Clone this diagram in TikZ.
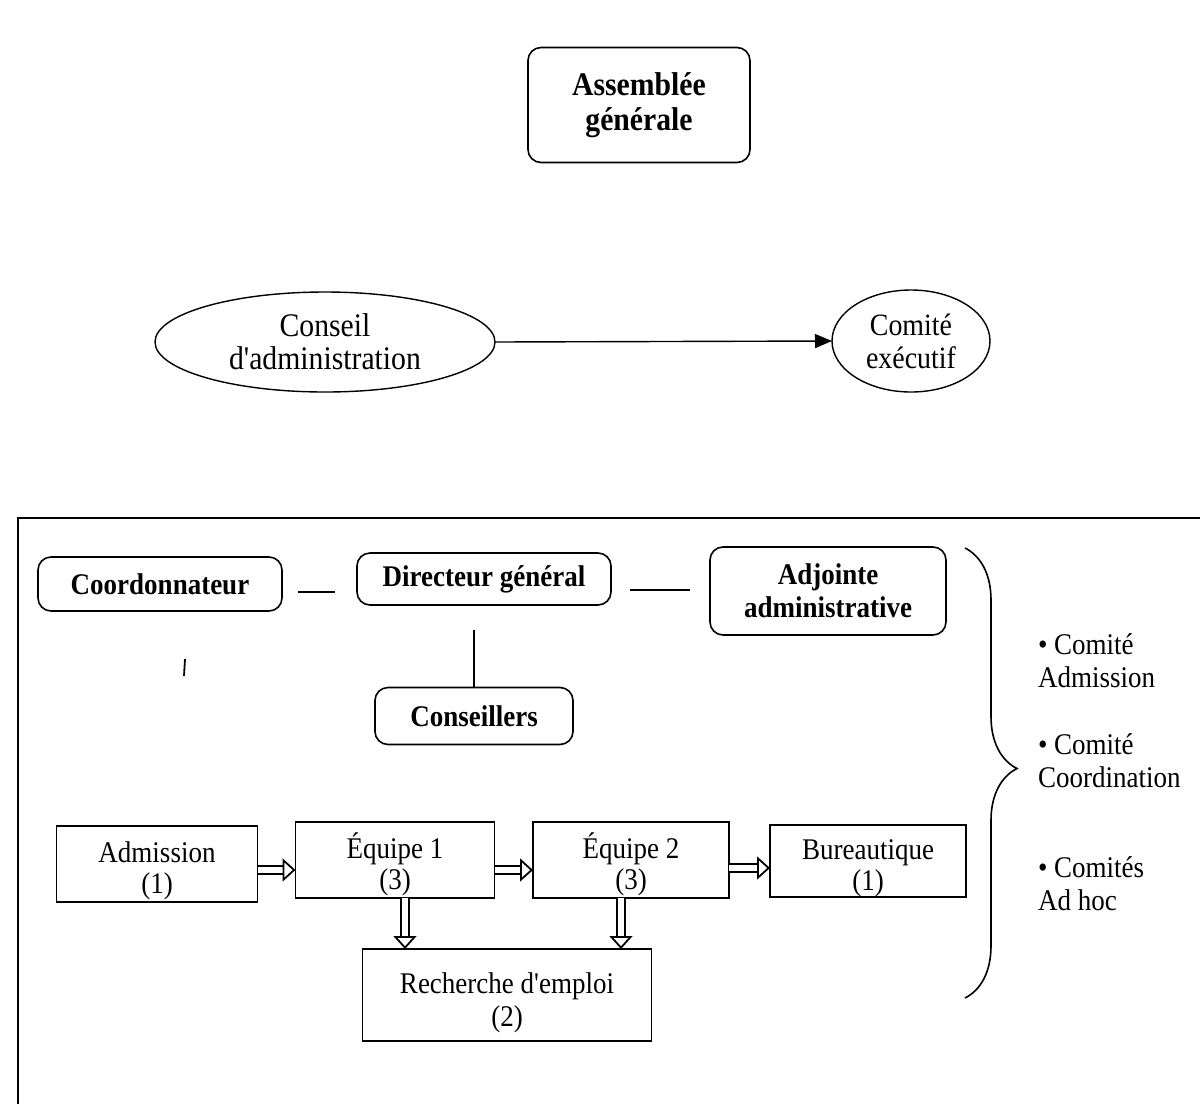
\documentclass[tikz,border=0pt]{standalone}
\usepackage{fontspec}
\setmainfont{Liberation Serif}[FakeStretch=0.9, Ligatures=TeXOff]
\usetikzlibrary{shapes.geometric,arrows.meta,decorations.pathreplacing,calc}
\newcommand\topstrut[1]{\rule{0pt}{#1}}
\begin{document}
\begin{tikzpicture}[x=1pt,y=-1pt,
  txt/.style={font=\fontsize{30}{31}\selectfont, align=center, inner sep=0pt, outer sep=0pt},
  btxt/.style={txt, font=\fontsize{30}{33}\selectfont\bfseries},
  rbox/.style={btxt, draw, line width=1.6pt, rounded corners=13pt},
  sbox/.style={txt, draw, line width=1.6pt},
  ell/.style={txt, draw, ellipse, line width=1.4pt},
  link/.style={line width=1.4pt},
  dbl/.style={double, double distance=6.5pt, line width=1.8pt,
    -{Triangle[open, length=13pt, width=23pt, line width=1.8pt]}},
  side/.style={txt, align=left, anchor=west, font=\fontsize{30}{33}\selectfont}
]
\useasboundingbox (0,0) rectangle (1200,1104);
\fill[white] (0,0) rectangle (1200,1104);

% top part
\node[rbox, font=\fontsize{33}{35}\selectfont\bfseries, minimum width=222pt, minimum height=115pt] (ag) at (639,105) {Assemblée\\générale};
\node[ell, font=\fontsize{33}{33}\selectfont, minimum width=340pt, minimum height=100pt] (ca) at (325,342) {Conseil\\d'administration};
\node[ell, font=\fontsize{31}{33}\selectfont, minimum width=158pt, minimum height=102pt] (ce) at (911,341) {Comité\\exécutif};
\draw[link, -{Triangle[length=17pt,width=14pt]}] (ca.east) -- (ce.west);

% frame
\coordinate (frTR) at (1200,518);
\coordinate (frTL) at (18,518);
\coordinate (frBL) at (18,1104);
\draw[line width=1.6pt] (frTR) -- (frTL) -- (frBL);

% management row
\node[rbox, minimum width=244pt, minimum height=54pt] (coord) at (160,584) {Coordonnateur};
\node[rbox, minimum width=254pt, minimum height=52pt] (dg) at (484,579) {Directeur général};
\node[rbox, minimum width=236pt, minimum height=88pt] (adj) at (828,591) {Adjointe\\administrative};
\draw[link] ($(coord.east)+(16,8)$) -- ($(dg.west)+(-22,13)$);
\draw[link] ($(dg.east)+(19,11)$) -- ($(adj.west)+(-20,-1)$);

\node[rbox, minimum width=198pt, minimum height=57pt] (cons) at (474,716) {Conseillers};
\draw[link] (cons.north) -- ++(0,-58);

% small stray mark
\draw[line width=1.8pt] (185,659) -- (184,676);

% teams row
\node[sbox, minimum width=201pt, minimum height=76pt] (adm) at (157,864) {\topstrut{34pt}Admission\\(1)};
\node[sbox, minimum width=199pt, minimum height=76pt] (eq1) at (395,860) {\topstrut{34pt}Équipe 1\\(3)};
\node[sbox, minimum width=196pt, minimum height=76pt] (eq2) at (631,860) {\topstrut{34pt}Équipe 2\\(3)};
\node[sbox, minimum width=196pt, minimum height=72pt] (bur) at (868,861) {\topstrut{35pt}Bureautique\\(1)};
\node[sbox, minimum width=289pt, minimum height=92pt] (rech) at (507,995) {\topstrut{36pt}Recherche d'emploi\\[2pt](2)};

\draw[dbl] (adm.east |- 0,870) -- (eq1.west |- 0,870);
\draw[dbl] (eq1.east |- 0,870) -- (eq2.west |- 0,870);
\draw[dbl] (eq2.east |- 0,868) -- (bur.west |- 0,868);
\draw[dbl] (eq1.south -| 405,0) -- (rech.north -| 405,0);
\draw[dbl] (eq2.south -| 621,0) -- (rech.north -| 621,0);

% brace and committees
\coordinate (brT) at (965,548);
\coordinate (brB) at (965,998);
\draw[line width=1.6pt, decorate, decoration={brace, amplitude=52pt, aspect=0.49}] (brT) -- (brB);
\node[side] (c1) at (1038,661) {• Comité\\Admission};
\node[side] (c2) at (1038,761) {• Comité\\Coordination};
\node[side] (c3) at (1038,884) {• Comités\\Ad hoc};
\end{tikzpicture}
\end{document}
